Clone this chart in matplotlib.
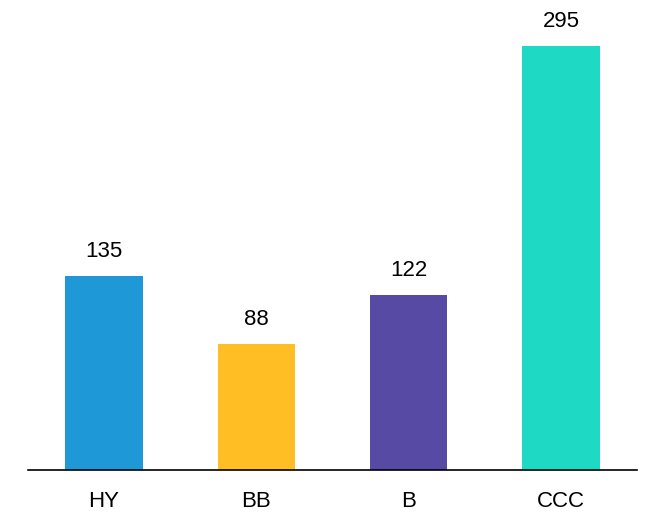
import matplotlib
matplotlib.use("Agg")
import matplotlib.pyplot as plt

categories = ["HY", "BB", "B", "CCC"]
values = [135, 88, 122, 295]
colors = ["#1E98D7", "#FFBF24", "#574AA5", "#1ED9C3"]

plt.rcParams["font.family"] = ["Liberation Sans", "DejaVu Sans"]

fig = plt.figure(figsize=(6.48, 5.15), dpi=100)
ax = fig.add_axes([28 / 648, 45 / 515, (637 - 28) / 648, 470 / 515])

x = range(len(categories))
bars = ax.bar(x, values, width=0.51, color=colors)
for rect, v in zip(bars, values):
    ax.annotate(f"{v}", (rect.get_x() + rect.get_width() / 2, v),
                xytext=(0, 10), textcoords="offset points",
                ha="center", va="bottom", fontsize=16)

ax.set_xlim(-0.5, 3.5)
ax.set_ylim(0, 327)
ax.set_xticks(list(x))
ax.set_xticklabels(categories, fontsize=16)
ax.tick_params(axis="x", length=0, pad=15)
ax.set_yticks([])
for s in ["top", "right", "left"]:
    ax.spines[s].set_visible(False)
ax.spines["bottom"].set_linewidth(1.2)

fig.savefig("out.png", dpi=100)
